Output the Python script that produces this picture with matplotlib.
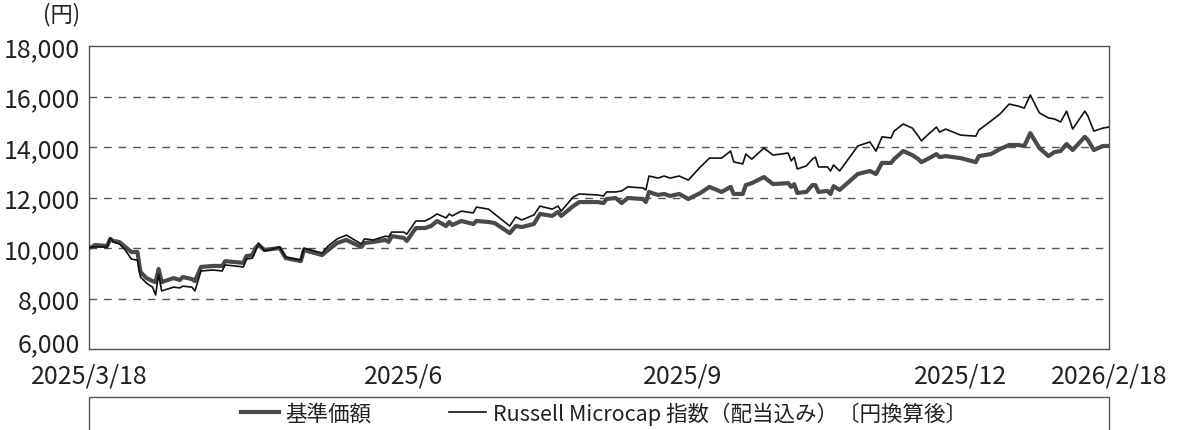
import matplotlib
matplotlib.use("Agg")
import matplotlib.pyplot as plt
from matplotlib.patches import Rectangle
from matplotlib.transforms import ScaledTranslation
import pandas as pd

plt.rcParams['font.family'] = ['Noto Sans CJK JP', 'DejaVu Sans']

# ---- data -------------------------------------------------------------
start_date = "2025-03-18"
day_offsets = [0, 1, 2, 6, 7, 8, 10, 12, 14, 16, 17, 19, 21, 22, 23, 24, 25, 28, 30, 31,
               34, 35, 37, 41, 44, 45, 51, 52, 54, 55, 56, 58, 63, 65, 70, 71, 77, 79, 82, 85,
               90, 91, 94, 98, 99, 100, 104, 105, 108, 111, 113, 115, 118, 119, 120, 123, 127, 128, 132, 134,
               139, 141, 143, 147, 149, 153, 155, 156, 160, 162, 168, 170, 171, 174, 176, 178, 183, 184, 185, 188,
               190, 192, 195, 198, 202, 205, 209, 212, 213, 216, 217, 219, 223, 226, 231, 232, 233, 234, 237, 239,
               240, 241, 244, 245, 246, 248, 254, 258, 260, 262, 265, 266, 269, 272, 274, 275, 277, 280, 281, 283,
               288, 293, 294, 298, 301, 304, 307, 309, 311, 314, 317, 319, 321, 323, 325, 329, 330, 332, 335, 337]

fund_nav = [10000, 10040, 10120, 10080, 10360, 10280, 10240, 10040, 9840, 9840, 9050, 8810, 8690, 8650, 9170, 8650, 8690, 8810, 8730, 8850,
            8770, 8690, 9250, 9290, 9290, 9480, 9410, 9680, 9720, 10000, 10120, 9920, 10000, 9600, 9480, 9920, 9720, 9920, 10200, 10320,
            10040, 10200, 10240, 10320, 10240, 10470, 10400, 10280, 10790, 10790, 10870, 11070, 10870, 11030, 10910, 11070, 10950, 11070, 11030, 10990,
            10590, 10870, 10830, 10950, 11350, 11270, 11430, 11270, 11660, 11820, 11820, 11780, 11940, 11980, 11780, 11980, 11940, 11820, 12220, 12100,
            12140, 12060, 12140, 11940, 12180, 12420, 12220, 12420, 12140, 12140, 12490, 12570, 12810, 12530, 12570, 12420, 12530, 12180, 12220, 12490,
            12490, 12220, 12260, 12140, 12450, 12300, 12930, 13050, 12930, 13370, 13370, 13520, 13840, 13680, 13520, 13400, 13520, 13720, 13600, 13640,
            13560, 13400, 13640, 13720, 13920, 14080, 14080, 14040, 14550, 13960, 13640, 13800, 13840, 14120, 13880, 14400, 14280, 13880, 14040, 14040]

index_value = [10000, 10040, 10040, 10040, 10400, 10240, 10160, 9920, 9560, 9520, 8850, 8610, 8450, 8140, 8970, 8300, 8340, 8450, 8420, 8490,
               8450, 8300, 9090, 9130, 9090, 9330, 9250, 9560, 9600, 9880, 10200, 9880, 10040, 9640, 9520, 10000, 9800, 10080, 10360, 10510,
               10160, 10360, 10320, 10470, 10440, 10630, 10630, 10550, 11070, 11070, 11190, 11350, 11190, 11350, 11270, 11460, 11390, 11620, 11540, 11350,
               10870, 11230, 11110, 11310, 11660, 11540, 11660, 11460, 12020, 12140, 12100, 12060, 12220, 12220, 12260, 12420, 12380, 12300, 12850, 12770,
               12850, 12770, 12850, 12690, 13210, 13560, 13560, 13840, 13410, 13330, 13720, 13520, 13960, 13680, 13760, 13450, 13600, 13130, 13250, 13520,
               13600, 13210, 13210, 13050, 13290, 13050, 14040, 14200, 13840, 14400, 14360, 14630, 14910, 14750, 14430, 14240, 14470, 14790, 14590, 14710,
               14470, 14430, 14670, 15030, 15310, 15700, 15620, 15540, 16060, 15350, 15150, 15110, 14990, 15420, 14710, 15420, 15230, 14630, 14750, 14790]

x_tick_dates = ["2025-03-18", "2025-06-30", "2025-09-30", "2025-12-31", "2026-02-18"]
x_tick_labels = ["2025/3/18", "2025/6", "2025/9", "2025/12", "2026/2/18"]
y_ticks = [6000, 8000, 10000, 12000, 14000, 16000, 18000]
series_labels = ["基準価額", "Russell Microcap 指数（配当込み）〔円換算後〕"]

# ---- figure -------------------------------------------------------------
dates = pd.Timestamp(start_date) + pd.to_timedelta(day_offsets, unit="D")

fig = plt.figure(figsize=(11.84, 4.31), dpi=100)
ax = fig.add_axes([89 / 1184, 1 - 350 / 431, 1020 / 1184, 303 / 431])

frame_col = "#555555"
txt_col = "#222222"

l1, = ax.plot(dates, fund_nav, color="#4a4a4a", lw=3.0, solid_joinstyle="round", zorder=3)
l2, = ax.plot(dates, index_value, color="#111111", lw=1.2, zorder=4)

ax.set_xlim(pd.Timestamp(x_tick_dates[0]), pd.Timestamp(x_tick_dates[-1]))
ax.set_ylim(y_ticks[0], y_ticks[-1])
ax.set_yticks(y_ticks)
ax.set_yticklabels([f"{v:,}" for v in y_ticks])
ax.set_xticks([pd.Timestamp(d) for d in x_tick_dates])
ax.set_xticklabels(x_tick_labels)

for v in y_ticks[1:-1]:
    ax.axhline(v, color="#555555", lw=1.0, linestyle=(0, (5.5, 5)), zorder=1)

for s in ax.spines.values():
    s.set_color(frame_col)
    s.set_linewidth(1.0)

ax.tick_params(axis="y", length=0, pad=6.5, labelsize=18, labelcolor=txt_col)
ax.tick_params(axis="x", length=0, pad=10, labelsize=18, labelcolor=txt_col)

# lift the lowest y label slightly so it clears the first date label
lowest = ax.get_yticklabels()[0]
lowest.set_transform(lowest.get_transform() + ScaledTranslation(0, 8 / 100, fig.dpi_scale_trans))

fig.text(80 / 1184, 1 - 15 / 431, "(円)", ha="right", va="center", fontsize=16, color=txt_col)

# legend box
fig.patches.append(Rectangle((89 / 1184, -0.1), 1020 / 1184, 0.1 + (1 - 398 / 431),
                             transform=fig.transFigure, facecolor="none",
                             edgecolor=frame_col, lw=1.0))
fig.legend([l1, l2], series_labels, loc="center", bbox_to_anchor=(604 / 1184, 1 - 414 / 431),
           ncol=2, frameon=False, fontsize=15.5, handlelength=1.75, handletextpad=0.3,
           columnspacing=3.6, labelcolor=txt_col, borderaxespad=0, borderpad=0)

fig.savefig("out.png", dpi=100)
